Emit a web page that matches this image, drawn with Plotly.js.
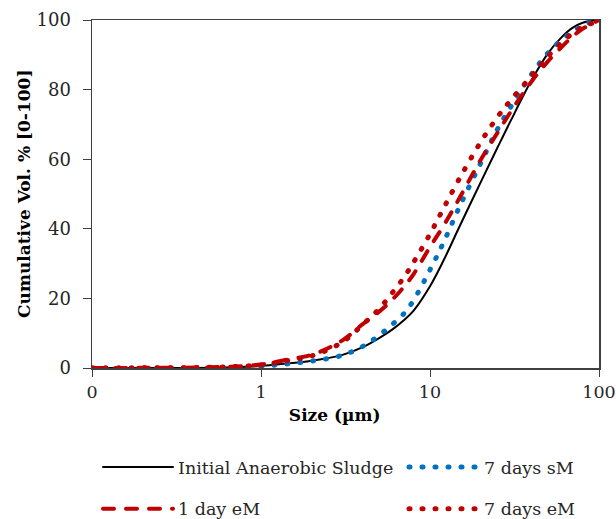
<!DOCTYPE html>
<html>
<head>
<meta charset="utf-8">
<script src="https://cdn.plot.ly/plotly-3.0.1.min.js"></script>
<style>
html, body { margin: 0; padding: 0; background: #fff; }
#chart { width: 616px; height: 519px; }
path.js-line { stroke-linecap: round; }
</style>
</head>
<body>
<div id="chart"></div>
<script>
// Particle size (µm)
var sizes = [0.1, 0.2, 0.5, 1, 1.5, 2, 3, 4, 5, 6, 7, 8, 10, 12, 15, 20, 25, 30, 40, 50, 60, 70, 80, 90, 100];
// Cumulative volume % for each sample
var initialSludge = [0, 0, 0.05, 0.6, 1.4, 2.1, 3.7, 6.0, 8.6, 11.1, 13.7, 16.5, 23.5, 30.8, 40.8, 53.5, 63.2, 71.0, 82.8, 90.5, 95.0, 97.8, 99.2, 99.8, 100];
var sM7days      = [0, 0, 0.05, 0.5, 1.3, 2.0, 3.6, 6.2, 9.4, 12.6, 15.6, 19.5, 28.2, 36.0, 46.5, 59.0, 68.5, 75.0, 84.5, 90.6, 94.2, 96.7, 98.4, 99.4, 100];
var eM1day       = [0, 0.05, 0.2, 1.0, 2.6, 3.8, 7.8, 12.6, 16.2, 19.7, 23.3, 27.0, 34.8, 40.8, 49.0, 59.9, 67.5, 73.6, 82.4, 88.2, 92.2, 95.3, 97.5, 98.8, 100];
var eM7days      = [0, 0.05, 0.2, 0.9, 2.3, 3.5, 7.3, 12.5, 17.0, 21.7, 26.0, 30.4, 38.5, 45.8, 54.6, 65.0, 72.0, 76.9, 84.0, 89.6, 93.5, 96.2, 98.0, 99.0, 100];
// Axis tick labels
var xTickVals = [0.1, 1, 10, 100];
var xTickText = ['0', '1', '10', '100'];
var yTitle = 'Cumulative Vol. % [0-100]';
var xTitle = 'Size (µm)';

var fontFam = 'DejaVu Serif, serif';

var traces = [
  {x: sizes, y: initialSludge, name: 'Initial Anaerobic Sludge', mode: 'lines',
   line: {color: '#000000', width: 2, shape: 'spline'}, legend: 'legend', legendgroup: 'a'},
  {x: sizes, y: sM7days, name: '7 days sM', mode: 'lines',
   line: {color: '#0070C0', width: 5, dash: '1px,12px', shape: 'spline'}, legend: 'legend2', legendgroup: 'b'},
  {x: sizes, y: eM1day, name: '1 day eM', mode: 'lines',
   line: {color: '#C00000', width: 4, dash: '11px,12px', shape: 'spline'}, legend: 'legend', legendgroup: 'c'},
  {x: sizes, y: eM7days, name: '7 days eM', mode: 'lines',
   line: {color: '#C00000', width: 5, dash: '1px,12px', shape: 'spline'}, legend: 'legend2', legendgroup: 'd'}
];

var legendCommon = {
  orientation: 'v', xref: 'container', yref: 'container',
  xanchor: 'left', yanchor: 'top', y: 1 - 449 / 519,
  font: {family: fontFam, size: 17.5, color: '#262626'},
  bgcolor: 'rgba(0,0,0,0)', itemwidth: 70, tracegroupgap: 16
};

var layout = {
  width: 616, height: 519,
  margin: {l: 92, r: 17, t: 20, b: 151, autoexpand: false},
  paper_bgcolor: '#ffffff', plot_bgcolor: '#ffffff',
  font: {family: fontFam, size: 18, color: '#262626'},
  xaxis: {
    type: 'log', range: [-1, 2],
    tickvals: xTickVals, ticktext: xTickText,
    ticks: 'outside', ticklen: 7, tickcolor: '#404040', tickwidth: 1,
    showline: true, linecolor: '#404040', linewidth: 1.5, mirror: true,
    showgrid: false, zeroline: false, ticklabeloverflow: 'allow',
    tickfont: {family: fontFam, size: 17.5, color: '#262626'},
    title: {text: '<b>' + xTitle + '</b>&nbsp;&nbsp;&nbsp;&nbsp;', font: {family: fontFam, size: 17, color: '#000'}, standoff: 8}
  },
  yaxis: {
    range: [0, 100], dtick: 20,
    ticks: 'outside', ticklen: 8, tickcolor: '#404040', tickwidth: 1,
    showline: true, linecolor: '#404040', linewidth: 1.5, mirror: true,
    showgrid: false, zeroline: false, ticklabelstandoff: 8,
    tickfont: {family: fontFam, size: 18, color: '#262626'}
  },
  annotations: [{
    text: '<b>' + yTitle + '</b>', xref: 'paper', yref: 'paper',
    x: (24 - 92) / 507, y: 0.5, xanchor: 'center', yanchor: 'middle',
    textangle: -90, showarrow: false,
    font: {family: fontFam, size: 17, color: '#000'}
  }],
  legend: Object.assign({}, legendCommon, {x: 98 / 616}),
  legend2: Object.assign({}, legendCommon, {x: 404 / 616})
};

Plotly.newPlot('chart', traces, layout, {displayModeBar: false, staticPlot: true});
</script>
</body>
</html>
